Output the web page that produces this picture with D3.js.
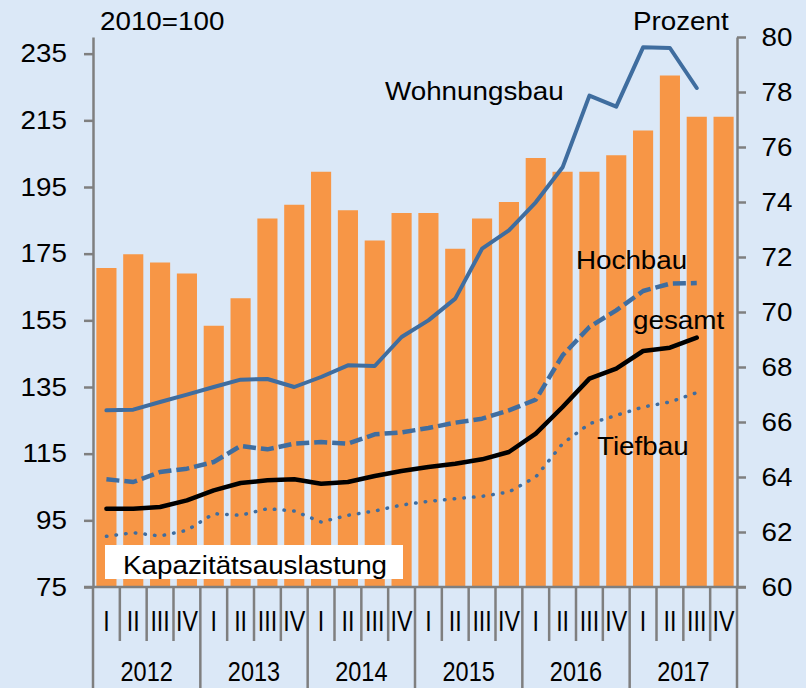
<!DOCTYPE html>
<html>
<head>
<meta charset="utf-8">
<script src="https://cdn.jsdelivr.net/npm/d3@7"></script>
<style>
  html, body { margin: 0; padding: 0; background: #dbe8f7; }
  svg { display: block; font-family: 'Liberation Sans', Arial, sans-serif; }
</style>
</head>
<body>
<div id="root"></div>
<script>
const years = ['2012', '2013', '2014', '2015', '2016', '2017']
const quarters = ['I', 'II', 'III', 'IV']

// Kapazitätsauslastung in Prozent (rechte Achse)
const kapazitaet = [71.6, 72.1, 71.8, 71.4, 69.5, 70.5, 73.4, 73.9, 75.1, 73.7, 72.6, 73.6,
  73.6, 72.3, 73.4, 74.0, 75.6, 75.1, 75.1, 75.7, 76.6, 78.6, 77.1, 77.1]

// Indizes 2010=100 (linke Achse), bis 2017 III
const wohnungsbau = [128.0, 128.2, 130.5, 132.7, 135.0, 137.2, 137.4, 135.0, 138.0, 141.5, 141.3, 150.0,
  155.0, 161.5, 176.5, 182.0, 190.4, 200.9, 222.4, 219.1, 236.9, 236.7, 224.7]
const hochbau = [107.3, 106.5, 109.5, 110.5, 112.5, 117.3, 116.3, 118.0, 118.5, 118.0, 120.8, 121.4,
  122.7, 124.3, 125.5, 128.0, 131.2, 144.5, 153.0, 158.0, 163.8, 166.0, 166.2]
const gesamt = [98.5, 98.5, 99.0, 101.0, 104.0, 106.2, 107.0, 107.3, 106.0, 106.5, 108.3, 109.8,
  111.0, 112.0, 113.3, 115.5, 121.0, 129.0, 137.5, 140.5, 145.8, 146.8, 149.8]
const tiefbau = [90.2, 91.3, 90.3, 92.0, 97.0, 96.5, 98.5, 97.8, 94.5, 96.5, 97.8, 99.6,
  100.7, 101.5, 102.2, 103.5, 108.0, 118.0, 124.0, 126.5, 129.0, 130.5, 133.3]

const leftTicks = [75, 95, 115, 135, 155, 175, 195, 215, 235]
const rightTicks = [60, 62, 64, 66, 68, 70, 72, 74, 76, 78, 80]

const w = 806
const h = 688
const plot = { left: 93, right: 737, top: 37, bottom: 587 }
const axisColor = '#7f7f7f'
const blue = '#3f6d9f'
const sx = 1.09

const keys = []
years.forEach(y => quarters.forEach(q => keys.push(y + '-' + q)))

const x = d3.scaleBand()
  .domain(keys)
  .range([plot.left, plot.right])
  .paddingInner(0.25)
  .paddingOuter(0.125)

const xEdge = d3.scaleBand()
  .domain(keys)
  .range([plot.left, plot.right])

const yL = d3.scaleLinear().domain([75, 240]).range([plot.bottom, plot.top])
const yR = d3.scaleLinear().domain([60, 80]).range([plot.bottom, plot.top])

const svg = d3.select('#root')
  .append('svg')
  .attr('width', w)
  .attr('height', h)

svg.append('rect')
  .attr('width', w)
  .attr('height', h)
  .attr('fill', '#dbe8f7')

// bars
svg.append('g')
  .selectAll('rect')
  .data(kapazitaet)
  .enter()
  .append('rect')
    .attr('x', (d, i) => x(keys[i]))
    .attr('y', d => yR(d))
    .attr('width', x.bandwidth())
    .attr('height', d => yR(60) - yR(d))
    .attr('fill', '#f79646')

// white box for the bar label
svg.append('rect')
  .attr('x', 105)
  .attr('y', 545)
  .attr('width', 298)
  .attr('height', 34)
  .attr('fill', '#ffffff')

// lines
const cx = i => xEdge(keys[i]) + xEdge.bandwidth() / 2
const line = d3.line()
  .x((d, i) => cx(i))
  .y(d => yL(d))

const series = [
  { values: wohnungsbau, color: blue, width: 4, dash: null, cap: 'round' },
  { values: hochbau, color: blue, width: 4.5, dash: '13,5', cap: 'butt' },
  { values: tiefbau, color: blue, width: 3.5, dash: '0.5,9.2', cap: 'round' },
  { values: gesamt, color: '#000000', width: 4.5, dash: null, cap: 'round' }
]

svg.append('g')
  .selectAll('path')
  .data(series)
  .enter()
  .append('path')
    .attr('d', d => line(d.values))
    .attr('fill', 'none')
    .attr('stroke', d => d.color)
    .attr('stroke-width', d => d.width)
    .attr('stroke-dasharray', d => d.dash)
    .attr('stroke-linecap', d => d.cap)
    .attr('stroke-linejoin', 'round')

// y axes
const styleAxis = g => {
  g.selectAll('.domain').attr('stroke', axisColor).attr('stroke-width', 2.5)
  g.selectAll('.tick line').attr('stroke', axisColor).attr('stroke-width', 2.5)
  g.selectAll('.tick text')
    .attr('fill', '#000')
    .style('font-size', '25.5px')
    .attr('transform', 'scale(' + sx + ',1)')
}

svg.append('g')
  .attr('transform', 'translate(' + plot.left + ',0)')
  .call(d3.axisLeft(yL).tickValues(leftTicks).tickSize(9).tickSizeOuter(0).tickPadding(15))
  .call(styleAxis)

svg.append('g')
  .attr('transform', 'translate(' + plot.right + ',0)')
  .call(d3.axisRight(yR).tickValues(rightTicks).tickSize(9).tickSizeOuter(0).tickPadding(13.5))
  .call(styleAxis)

// x axis
const xAxis = svg.append('g')

xAxis.append('line')
  .attr('x1', plot.left - 9)
  .attr('x2', plot.right + 9)
  .attr('y1', plot.bottom)
  .attr('y2', plot.bottom)
  .attr('stroke', axisColor)
  .attr('stroke-width', 2.5)

const edges = keys.map(k => xEdge(k)).concat([plot.right])

xAxis.selectAll('.qtick')
  .data(edges)
  .enter()
  .append('line')
    .attr('class', 'qtick')
    .attr('x1', d => d)
    .attr('x2', d => d)
    .attr('y1', plot.bottom)
    .attr('y2', (d, i) => i % 4 === 0 ? h : 641)
    .attr('stroke', axisColor)
    .attr('stroke-width', 2.5)

xAxis.selectAll('.qlabel')
  .data(keys)
  .enter()
  .append('text')
    .attr('class', 'qlabel')
    .attr('transform', d => 'translate(' + (xEdge(d) + xEdge.bandwidth() / 2) + ',631) scale(0.8,1)')
    .attr('text-anchor', 'middle')
    .style('font-size', '29px')
    .text(d => d.split('-')[1])

xAxis.selectAll('.ylabel')
  .data(years)
  .enter()
  .append('text')
    .attr('class', 'ylabel')
    .attr('transform', d => 'translate(' + (xEdge(d + '-III')) + ',681) scale(0.84,1)')
    .attr('text-anchor', 'middle')
    .style('font-size', '28px')
    .text(d => d)

// labels
const labels = [
  { text: '2010=100', x: 100, y: 30, anchor: 'start' },
  { text: 'Prozent', x: 633, y: 30, anchor: 'start' },
  { text: 'Wohnungsbau', x: 385, y: 100, anchor: 'start' },
  { text: 'Hochbau', x: 576, y: 269, anchor: 'start' },
  { text: 'gesamt', x: 633, y: 329, anchor: 'start' },
  { text: 'Tiefbau', x: 597, y: 455, anchor: 'start' },
  { text: 'Kapazitätsauslastung', x: 123, y: 573.5, anchor: 'start' }
]

svg.append('g')
  .selectAll('text')
  .data(labels)
  .enter()
  .append('text')
    .attr('transform', d => 'translate(' + d.x + ',' + d.y + ') scale(' + sx + ',1)')
    .attr('text-anchor', d => d.anchor)
    .style('font-size', '25.5px')
    .text(d => d.text)
</script>
</body>
</html>
